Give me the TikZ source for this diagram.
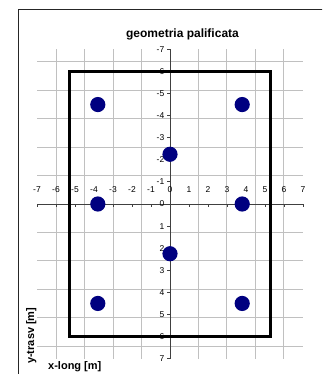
\documentclass[tikz,border=0pt]{standalone}
\usepackage{fontspec}
\setmainfont{Liberation Sans}
\definecolor{gridgray}{HTML}{C0C0C0}
\definecolor{axisgray}{HTML}{404040}
\definecolor{pilenavy}{HTML}{000080}
\tikzset{
  gridline/.style={draw=gridgray, line width=1pt},
  axisline/.style={draw=axisgray, line width=0.9pt},
  ticklab/.style={font=\fontsize{8.5}{9}\selectfont, inner sep=0pt},
  pile/.style={fill=pilenavy},
  footprint/.style={draw=black, line width=2.6pt},
  axistitle/.style={font=\fontsize{11}{12}\selectfont\bfseries, inner sep=0pt},
}
\begin{document}
\begin{tikzpicture}[x=1pt,y=-1pt]
\useasboundingbox (0,0) rectangle (322,374);
\fill[white] (0,0) rectangle (322,374);
\clip (0,0) rectangle (322,374);
\draw[draw=black!85, line width=1pt] (330,10) -- (18,10) -- (18,380);
\node[font=\fontsize{12}{13}\selectfont\bfseries, anchor=base] (title) at (182.5,38) {geometria palificata};
\begin{scope}[shift={(170pt,-204pt)}, x=19pt, y=-22.1pt]
  \draw[gridline] (-7,-7) grid (7,7);
  \draw[axisline] (-7,0) -- (7,0);
  \draw[axisline] (0,-7) -- (0,7);
  \foreach \i in {-7,...,7} {
    \draw[axisline] (\i,0) -- ++(0pt,-3pt);
    \draw[axisline] (0,\i) -- ++(-3pt,0pt);
    \node[ticklab, anchor=base] (xl\i) at ([yshift=11.7pt]\i,0) {\i};
    \node[ticklab, anchor=east] (yl\i) at ([xshift=-5.5pt]0,\i) {\i};
  }
  \draw[footprint] (-5.3,-6) rectangle (5.3,6);
  \foreach \px/\py [count=\k] in {-3.8/-4.5, 3.8/-4.5, 0/-2.25, -3.8/0, 3.8/0, 0/2.25, -3.8/4.5, 3.8/4.5} {
    \fill[pile] (\px,\py) circle[radius=7.6pt];
  }
\end{scope}
\node[axistitle, anchor=base west] (xlab) at (48,369) {x-long [m]};
\node[axistitle, anchor=base west, rotate=90] (ylab) at (34,364) {y-trasv [m]};
\end{tikzpicture}
\end{document}
